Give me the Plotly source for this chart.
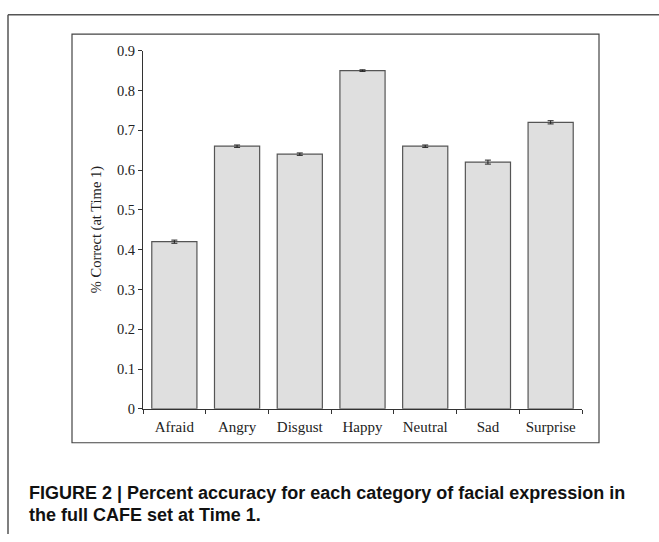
import plotly.graph_objects as go

categories = ["Afraid", "Angry", "Disgust", "Happy", "Neutral", "Sad", "Surprise"]
accuracy = [0.42, 0.66, 0.64, 0.85, 0.66, 0.62, 0.72]
errors = [0.004, 0.003, 0.003, 0.002, 0.003, 0.005, 0.004]
y_ticks = [0, 0.1, 0.2, 0.3, 0.4, 0.5, 0.6, 0.7, 0.8, 0.9]
y_title = "% Correct (at Time 1)"
caption_1 = "FIGURE 2 | Percent accuracy for each category of facial expression in"
caption_2 = "the full CAFE set at Time 1."

W, H = 659, 542

def px(x):
    return x / W

def py(y):
    return 1 - y / H

serif = "Liberation Serif"

fig = go.Figure()
fig.add_trace(go.Bar(
    x=categories, y=accuracy, width=0.72,
    marker=dict(color="#dfdfdf", line=dict(color="#555555", width=1.2)),
    error_y=dict(type="data", array=errors, visible=True, color="#222222", thickness=1, width=3),
))

fig.update_layout(
    width=W, height=H,
    margin=dict(l=0, r=0, t=0, b=0),
    paper_bgcolor="white", plot_bgcolor="white",
    showlegend=False,
    xaxis=dict(
        domain=[px(143), px(582)], range=[-0.5, 6.5],
        showline=True, linecolor="#333333", linewidth=1,
        ticks="outside", tickson="boundaries", ticklen=4, tickcolor="#333333",
        tickfont=dict(family=serif, size=15, color="#222222"),
        ticklabelstandoff=4,
        showgrid=False, zeroline=False, fixedrange=True,
    ),
    yaxis=dict(
        domain=[py(413), py(44)], range=[0, 0.9],
        tickvals=y_ticks, ticktext=[("%g" % v) for v in y_ticks],
        showline=True, linecolor="#333333", linewidth=1,
        ticks="outside", ticklen=4, tickcolor="#333333",
        tickfont=dict(family=serif, size=14.5, color="#222222"),
        showgrid=False, zeroline=False, fixedrange=True,
    ),
    shapes=[
        dict(type="rect", xref="paper", yref="paper", x0=px(72), x1=px(599), y0=py(448), y1=py(27),
             line=dict(color="#444444", width=1.2)),
        dict(type="line", xref="paper", yref="paper", x0=px(8), x1=1.0, y0=py(7), y1=py(7),
             line=dict(color="#555555", width=1.5)),
        dict(type="line", xref="paper", yref="paper", x0=px(8), x1=px(8), y0=py(7), y1=0,
             line=dict(color="#555555", width=1.5)),
    ],
    annotations=[
        dict(text=y_title, xref="paper", yref="paper", x=px(96), y=py(229), textangle=-90,
             showarrow=False, font=dict(family=serif, size=14.5, color="#222222"),
             xanchor="center", yanchor="middle"),
        dict(text="<b>" + caption_1 + "</b>", xref="paper", yref="paper", x=px(27), y=py(500),
             showarrow=False, xanchor="left", yanchor="middle",
             font=dict(family="Liberation Sans", size=18, color="#111111")),
        dict(text="<b>" + caption_2 + "</b>", xref="paper", yref="paper", x=px(27), y=py(522),
             showarrow=False, xanchor="left", yanchor="middle",
             font=dict(family="Liberation Sans", size=18, color="#111111")),
    ],
)

fig.write_html(
    "out.html",
    config={"displayModeBar": False},
    post_script="document.body.style.margin='0';document.body.style.padding='0';document.body.style.overflow='hidden';",
)
